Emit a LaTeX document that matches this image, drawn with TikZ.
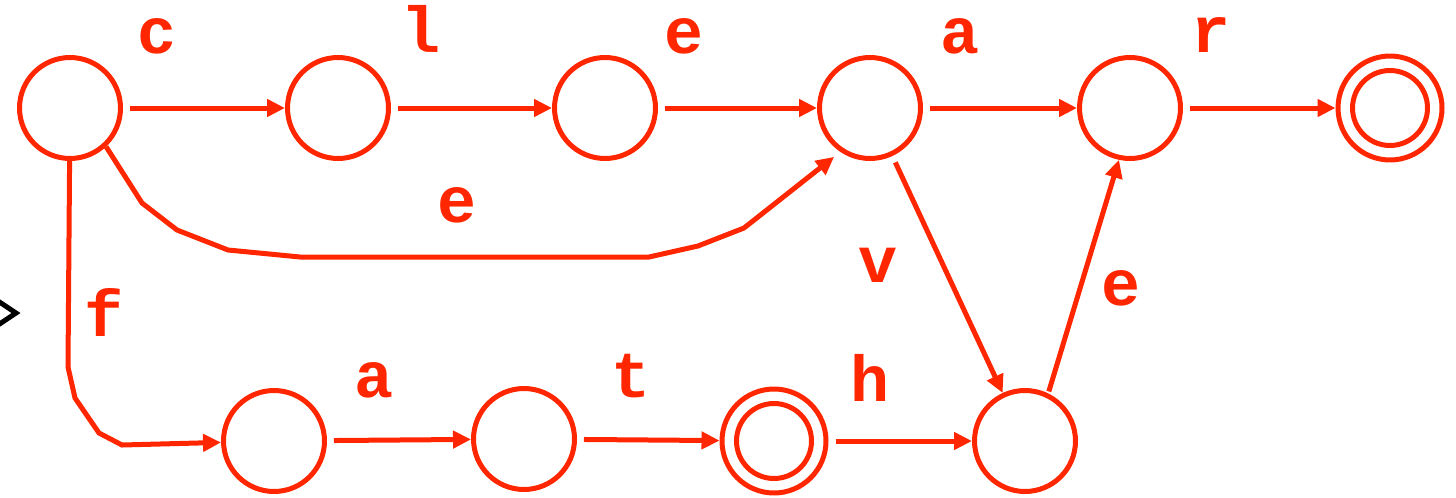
\documentclass[tikz,border=0pt]{standalone}
\usepackage{fontspec}
\setmonofont{Liberation Mono}
\usetikzlibrary{arrows.meta}
\definecolor{fsared}{RGB}{255,38,0}

\begin{document}
\begin{tikzpicture}[x=0.02cm,y=-0.02cm,line width=0.1cm]
\tikzstyle{every node}+=[inner sep=0pt]
\tikzstyle{st}=[draw=fsared,circle,minimum size=2.02cm]
\tikzstyle{acc}=[st,minimum size=2.08cm]
\tikzstyle{lbl}=[text=fsared,anchor=base,font=\fontsize{37}{40}\selectfont\ttfamily\bfseries]
\tikzstyle{edge}=[draw=fsared,-{Triangle[length=0.36cm,width=0.34cm]},shorten <=0.14cm]
\useasboundingbox (0,0) rectangle (1456,497);
\node [st] (s0) at (70,108) {};
\node [st] (s1) at (338,108) {};
\node [st] (s2) at (605,108) {};
\node [st] (s3) at (870,108) {};
\node [st] (s4) at (1130,108) {};
\node [acc] (s5) at (1390,108) {};
\draw [fsared] (s5) circle [radius=0.75cm];
\node [st] (s6) at (274,441) {};
\node [st] (s7) at (524,439) {};
\node [acc] (s8) at (774,441) {};
\draw [fsared] (s8) circle [radius=0.75cm];
\node [st] (s9) at (1025,441) {};
\draw [edge] (s0) -- (s1);
\node [lbl] (lc) at (157,53) {c};
\draw [edge] (s1) -- (s2);
\node [lbl] (ll) at (421,52) {l};
\draw [edge] (s2) -- (s3);
\node [lbl] (le1) at (684,53) {e};
\draw [edge] (s3) -- (s4);
\node [lbl] (la1) at (960,53) {a};
\draw [edge] (s4) -- (s5);
\node [lbl] (lr) at (1211,52) {r};
\draw [edge,shorten <=0pt,shorten >=0.16cm] (s0.-47) -- (142,203) -- (177,230) -- (228,250) -- (300,257) -- (649,257) -- (698,246) -- (744,228) -- (s3.-124);
\node [lbl] (le2) at (457,222) {e};
\draw [edge] (s3) -- (s9);
\node [lbl] (lv) at (878,282) {v};
\draw [edge,shorten <=0.04cm] (s9.64) -- (s4.-102);
\node [lbl] (le3) at (1121,305) {e};
\draw [edge,shorten <=0pt] (s0) -- (68,367) -- (75,398) -- (99,433) -- (122,445) -- (s6);
\node [lbl] (lf) at (104,336) {f};
\draw [edge] (s6) -- (s7);
\node [lbl] (la2) at (374,397) {a};
\draw [edge] (s7) -- (s8);
\node [lbl] (lt) at (631,397) {t};
\draw [edge] (s8) -- (s9);
\node [lbl] (lh) at (870,401) {h};
\draw [black] (-5,299) -- (16,313) -- (-5,327);
\end{tikzpicture}
\end{document}
